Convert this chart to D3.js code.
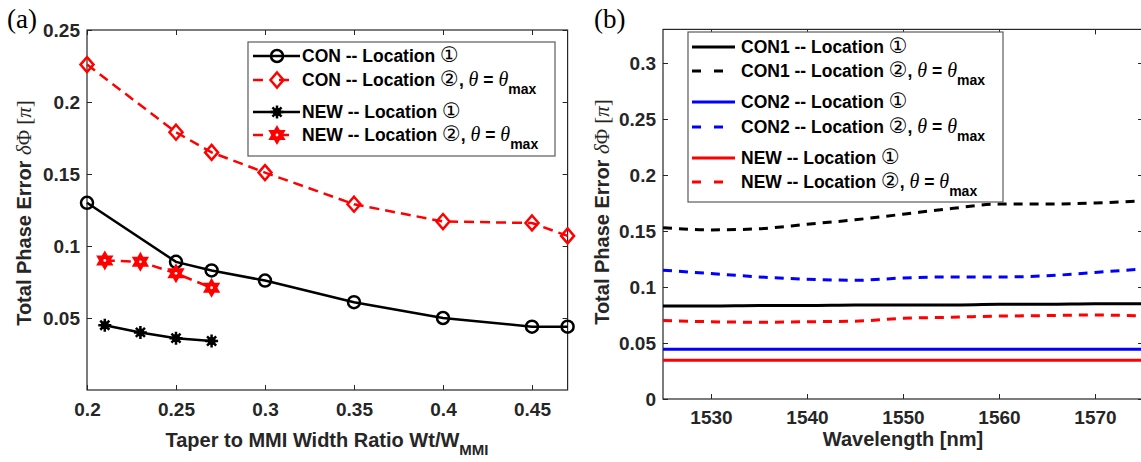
<!DOCTYPE html>
<html>
<head>
<meta charset="utf-8">
<script src="https://cdn.jsdelivr.net/npm/d3@7"></script>
<style>
  body { margin: 0; background: #fff; }
  svg text { font-family: Arial, "Liberation Sans", sans-serif; }
</style>
</head>
<body>
<div id="chart"></div>
<script>
// ---- data (a): taper ratio sweep
const ratioCon = [0.2, 0.25, 0.27, 0.3, 0.35, 0.4, 0.45, 0.47];
const conLoc1 = [0.130, 0.089, 0.083, 0.076, 0.061, 0.050, 0.044, 0.044];
const conLoc2 = [0.226, 0.179, 0.165, 0.151, 0.129, 0.117, 0.116, 0.107];
const ratioNew = [0.21, 0.23, 0.25, 0.27];
const newLoc1 = [0.045, 0.040, 0.036, 0.034];
const newLoc2 = [0.090, 0.089, 0.081, 0.071];
const ticksA_x = [0.2, 0.25, 0.3, 0.35, 0.4, 0.45];
const ticksA_y = [0.05, 0.1, 0.15, 0.2, 0.25];

// ---- data (b): wavelength sweep
const wavelength = [1525, 1530, 1535, 1540, 1545, 1550, 1555, 1560, 1565, 1570, 1575];
const con1Loc1 = [0.083, 0.083, 0.0835, 0.0835, 0.084, 0.084, 0.084, 0.0845, 0.0845, 0.085, 0.085];
const con1Loc2 = [0.153, 0.151, 0.152, 0.156, 0.160, 0.165, 0.170, 0.174, 0.174, 0.175, 0.177];
const con2Loc1 = [0.0445, 0.0445, 0.0445, 0.0445, 0.0445, 0.0445, 0.0445, 0.0445, 0.0445, 0.0445, 0.0445];
const con2Loc2 = [0.115, 0.112, 0.109, 0.107, 0.106, 0.108, 0.109, 0.109, 0.110, 0.113, 0.116];
const newBLoc1 = [0.0345, 0.0345, 0.0345, 0.0345, 0.0345, 0.0345, 0.0345, 0.0345, 0.0345, 0.0345, 0.0345];
const newBLoc2 = [0.070, 0.069, 0.0685, 0.069, 0.0695, 0.072, 0.073, 0.074, 0.0745, 0.075, 0.074];
const ticksB_x = [1530, 1540, 1550, 1560, 1570];
const ticksB_y = [0, 0.05, 0.1, 0.15, 0.2, 0.25, 0.3];

const W = 1141, H = 462;
const textColor = "#262626";
const serif = "'Liberation Serif', 'Times New Roman', serif";

const svg = d3.select("#chart").append("svg")
  .attr("width", W).attr("height", H);

// marker shapes
function markerPath(type, s) {
  if (type === "circle") return d3.symbol(d3.symbolCircle, Math.PI * s * s)();
  if (type === "diamond") return `M0,${-s * 1.15}L${s},0L0,${s * 1.15}L${-s},0Z`;
  if (type === "hexagram") {
    const p = a => [s * Math.sin(a), -s * Math.cos(a)];
    const tri = off => [0, 1, 2].map(k => p(off + k * 2 * Math.PI / 3));
    return "M" + tri(0).join("L") + "Z" + "M" + tri(Math.PI).join("L") + "Z";
  }
  if (type === "asterisk") {
    return `M${-s},0L${s},0M0,${-s}L0,${s}M${-s * 0.7},${-s * 0.7}L${s * 0.7},${s * 0.7}M${-s * 0.7},${s * 0.7}L${s * 0.7},${-s * 0.7}`;
  }
}

function drawMarker(g, type, color, x, y) {
  if (type === "asterisk") {
    g.append("circle").attr("cx", x).attr("cy", y).attr("r", 4).attr("fill", color);
    g.append("path").attr("d", markerPath(type, 6.5)).attr("transform", `translate(${x},${y})`)
      .attr("stroke", color).attr("stroke-width", 2.5).attr("fill", "none");
  } else if (type === "hexagram") {
    g.append("path").attr("d", markerPath(type, 7.5)).attr("transform", `translate(${x},${y})`)
      .attr("stroke", color).attr("stroke-width", 2.5).attr("fill", color).attr("stroke-linejoin", "miter");
    g.append("circle").attr("cx", x).attr("cy", y).attr("r", 1.4).attr("fill", "#fff");
  } else {
    const s = type === "circle" ? 6 : 6.5;
    g.append("path").attr("d", markerPath(type, s)).attr("transform", `translate(${x},${y})`)
      .attr("stroke", color).attr("stroke-width", 2.5).attr("fill", "none");
  }
}

function frame(g, x, y, xt, yt, pad) {
  const [x0, x1] = x.range(), [y0, y1] = y.range();
  const w = x1 - x0, h = y0 - y1;
  const style = sel => {
    sel.select(".domain").remove();
    sel.selectAll("line").attr("stroke", textColor);
    sel.selectAll("text").attr("fill", textColor).style("font-size", "19px").style("font-weight", "bold");
  };
  g.append("g").attr("transform", `translate(0,${y0})`)
    .call(d3.axisBottom(x).tickValues(xt).tickSize(-5).tickPadding(pad).tickFormat(d3.format("")))
    .call(style).selectAll("text").attr("dy", "0.71em");
  g.append("g").attr("transform", `translate(0,${y1})`)
    .call(d3.axisTop(x).tickValues(xt).tickSize(-5).tickFormat("")).call(style);
  g.append("g").attr("transform", `translate(${x0},0)`)
    .call(d3.axisLeft(y).tickValues(yt).tickSize(-5).tickPadding(7).tickFormat(d3.format(""))).call(style);
  g.append("g").attr("transform", `translate(${x1},0)`)
    .call(d3.axisRight(y).tickValues(yt).tickSize(-5).tickFormat("")).call(style);
  g.append("rect").attr("x", x0).attr("y", y1).attr("width", w).attr("height", h)
    .attr("fill", "none").attr("stroke", textColor).attr("stroke-width", 1.2);
}

function yLabel(g, cx, cy) {
  const t = g.append("text").attr("transform", `translate(${cx},${cy}) rotate(-90)`)
    .attr("text-anchor", "middle").attr("fill", textColor)
    .style("font-size", "20px").style("font-weight", "bold");
  t.append("tspan").text("Total Phase Error ");
  t.append("tspan").text("δ").style("font-family", serif).style("font-weight", "normal").style("font-style", "italic").style("font-size", "21px");
  t.append("tspan").text("Φ [").style("font-family", serif).style("font-weight", "normal").style("font-size", "21px");
  t.append("tspan").text("π").style("font-family", serif).style("font-weight", "normal").style("font-style", "italic").style("font-size", "21px");
  t.append("tspan").text("]").style("font-family", serif).style("font-weight", "normal").style("font-size", "21px");
}

function legendText(g, x, y, label, num, theta) {
  const t = g.append("text").attr("x", x).attr("y", y).attr("dy", "0.36em")
    .attr("fill", "#000").style("font-size", "17.5px").style("font-weight", "bold");
  t.append("tspan").text(label + " ");
  t.append("tspan").text(num).style("font-family", "'DejaVu Sans', sans-serif").style("font-weight", "normal").style("font-size", "21px");
  if (theta) {
    t.append("tspan").text(", ");
    t.append("tspan").text("θ").style("font-family", serif).style("font-style", "italic").style("font-weight", "normal").style("font-size", "20px");
    t.append("tspan").text(" = ");
    t.append("tspan").text("θ").style("font-family", serif).style("font-style", "italic").style("font-weight", "normal").style("font-size", "20px");
    t.append("tspan").text("max").attr("dy", "8").style("font-size", "14px");
  }
}

// ================= panel (a)
const gA = svg.append("g");
const xA = d3.scaleLinear().domain([0.2, 0.47]).range([87, 567.6]);
const yA = d3.scaleLinear().domain([0, 0.25]).range([390, 30]);
frame(gA, xA, yA, ticksA_x, ticksA_y, 13);

const seriesA = [
  { xs: ratioCon, ys: conLoc1, color: "#000", dash: null, marker: "circle", label: "CON -- Location", num: "①", theta: false },
  { xs: ratioCon, ys: conLoc2, color: "#ff0000", dash: "10,6", marker: "diamond", label: "CON -- Location", num: "②", theta: true },
  { xs: ratioNew, ys: newLoc1, color: "#000", dash: null, marker: "asterisk", label: "NEW -- Location", num: "①", theta: false },
  { xs: ratioNew, ys: newLoc2, color: "#ff0000", dash: "10,6", marker: "hexagram", label: "NEW -- Location", num: "②", theta: true }
];
const lineA = d3.line().x(d => xA(d[0])).y(d => yA(d[1]));
seriesA.forEach(s => {
  const pts = s.xs.map((v, i) => [v, s.ys[i]]);
  gA.append("path").attr("d", lineA(pts)).attr("fill", "none").attr("stroke", s.color)
    .attr("stroke-width", 2.5).attr("stroke-dasharray", s.dash);
  pts.forEach(p => drawMarker(gA, s.marker, s.color, xA(p[0]), yA(p[1])));
});

// legend (a)
const legA = gA.append("g");
legA.append("rect").attr("x", 248).attr("y", 42).attr("width", 307).attr("height", 114)
  .attr("fill", "#fff").attr("stroke", "#5a5a5a").attr("stroke-width", 1.2);
const rowsA = [56, 80, 112, 135];
seriesA.forEach((s, i) => {
  const y = rowsA[i];
  legA.append("line").attr("x1", 253).attr("x2", 300).attr("y1", y).attr("y2", y)
    .attr("stroke", s.color).attr("stroke-width", 2.5).attr("stroke-dasharray", s.dash ? "10,16" : null);
  drawMarker(legA, s.marker, s.color, 277, y);
  legendText(legA, 302, y, s.label, s.num, s.theta);
});

// axis labels (a)
const xlabA = gA.append("text").attr("x", 327).attr("y", 447).attr("text-anchor", "middle")
  .attr("fill", textColor).style("font-size", "20px").style("font-weight", "bold");
xlabA.append("tspan").text("Taper to MMI Width Ratio Wt/W");
xlabA.append("tspan").text("MMI").attr("dy", "8").style("font-size", "15px");
yLabel(gA, 31, 213);
gA.append("text").attr("x", 7).attr("y", 28).text("(a)")
  .style("font-family", serif).style("font-size", "27px").attr("fill", "#000");

// ================= panel (b)
const gB = svg.append("g");
const xB = d3.scaleLinear().domain([1525, 1575]).range([663, 1143]);
const yB = d3.scaleLinear().domain([0, 0.33]).range([399, 29.4]);
frame(gB, xB, yB, ticksB_x, ticksB_y, 12);

const seriesB = [
  { ys: con1Loc1, color: "#000", dash: null, label: "CON1 -- Location", num: "①", theta: false },
  { ys: con1Loc2, color: "#000", dash: "9,7", label: "CON1 -- Location", num: "②", theta: true },
  { ys: con2Loc1, color: "#0000ff", dash: null, label: "CON2 -- Location", num: "①", theta: false },
  { ys: con2Loc2, color: "#0000ff", dash: "9,7", label: "CON2 -- Location", num: "②", theta: true },
  { ys: newBLoc1, color: "#ff0000", dash: null, label: "NEW -- Location", num: "①", theta: false },
  { ys: newBLoc2, color: "#ff0000", dash: "9,7", label: "NEW -- Location", num: "②", theta: true }
];
const lineB = d3.line().x(d => xB(d[0])).y(d => yB(d[1])).curve(d3.curveMonotoneX);
seriesB.forEach(s => {
  const pts = wavelength.map((v, i) => [v, s.ys[i]]);
  gB.append("path").attr("d", lineB(pts)).attr("fill", "none").attr("stroke", s.color)
    .attr("stroke-width", 3).attr("stroke-dasharray", s.dash);
});

// legend (b)
const legB = gB.append("g");
legB.append("rect").attr("x", 688).attr("y", 32).attr("width", 315).attr("height", 170)
  .attr("fill", "#fff").attr("stroke", "#5a5a5a").attr("stroke-width", 1.2);
const rowsB = [47, 71, 102, 127, 158, 182];
seriesB.forEach((s, i) => {
  const y = rowsB[i];
  legB.append("line").attr("x1", 692).attr("x2", 735).attr("y1", y).attr("y2", y)
    .attr("stroke", s.color).attr("stroke-width", 3).attr("stroke-dasharray", s.dash ? "9,13" : null);
  legendText(legB, 741, y, s.label, s.num, s.theta);
});

gB.append("text").attr("x", 903).attr("y", 446).attr("text-anchor", "middle")
  .attr("fill", textColor).style("font-size", "20px").style("font-weight", "bold").text("Wavelength [nm]");
yLabel(gB, 609, 212);
gB.append("text").attr("x", 594).attr("y", 28).text("(b)")
  .style("font-family", serif).style("font-size", "27px").attr("fill", "#000");
</script>
</body>
</html>
